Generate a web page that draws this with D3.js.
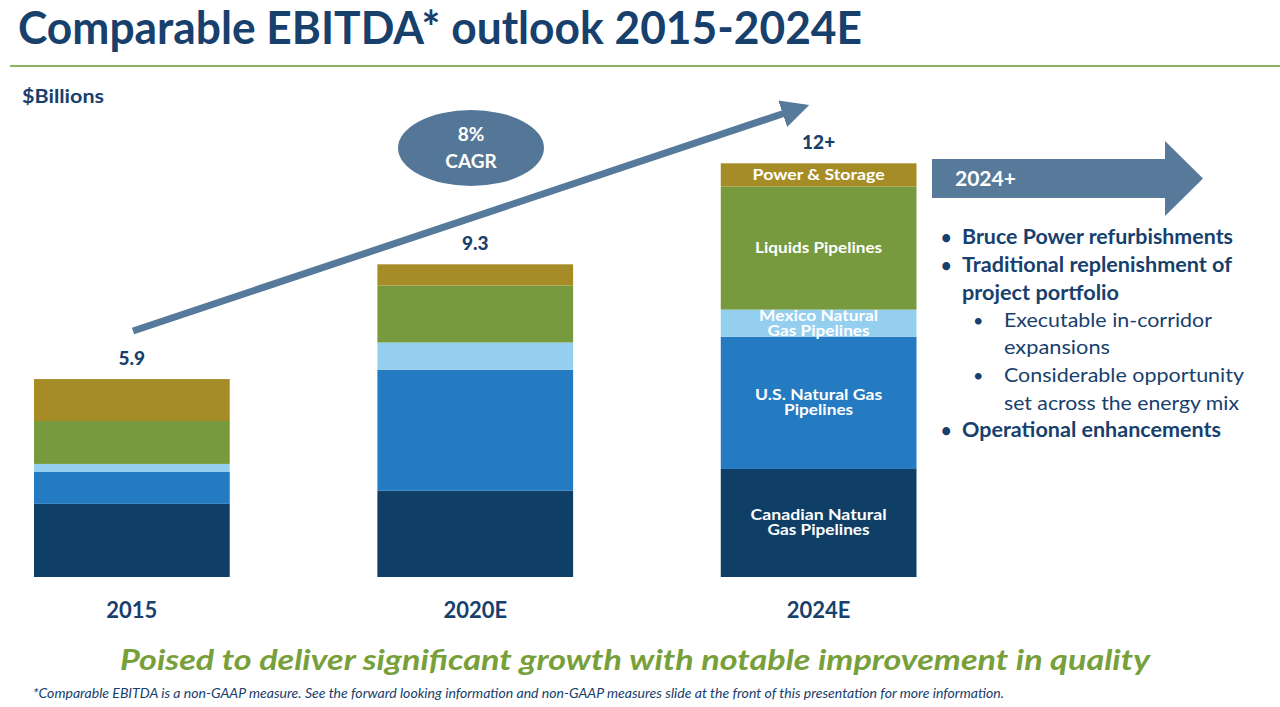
<!DOCTYPE html>
<html><head><meta charset="utf-8">
<script src="https://cdn.jsdelivr.net/npm/d3@7"></script>
<style>body{margin:0;background:#fff}svg{display:block}text{font-family:Lato,"Open Sans",sans-serif}</style>
</head><body>
<svg id="c" width="1280" height="707"></svg>
<script>
const categories = ["2015", "2020E", "2024E"];
const totalLabels = ["5.9", "9.3", "12+"];
const seriesNames = ["Canadian Natural Gas Pipelines", "U.S. Natural Gas Pipelines", "Mexico Natural Gas Pipelines", "Liquids Pipelines", "Power & Storage"];
const canadianGas = [2.18, 2.57, 3.22];
const usGas = [0.95, 3.61, 3.94];
const mexicoGas = [0.24, 0.81, 0.81];
const liquids = [1.28, 1.70, 3.67];
const powerStorage = [1.25, 0.63, 0.69];
const seriesColors = ["#0f3e66", "#247bc2", "#94cff0", "#789a3e", "#a68c27"];
const segLabelLines = [["Canadian Natural", "Gas Pipelines"], ["U.S. Natural Gas", "Pipelines"], ["Mexico Natural", "Gas Pipelines"], ["Liquids Pipelines"], ["Power & Storage"]];
const bullets = [
  {lvl:0, t:"Bruce Power refurbishments", b:true},
  {lvl:0, t:"Traditional replenishment of", b:true},
  {lvl:-1, t:"project portfolio", b:true},
  {lvl:1, t:"Executable in-corridor", b:false},
  {lvl:-2, t:"expansions", b:false},
  {lvl:1, t:"Considerable opportunity", b:false},
  {lvl:-2, t:"set across the energy mix", b:false},
  {lvl:0, t:"Operational enhancements", b:true}
];
const bulletWidths = [271, 270, 157, 208, 106, 240, 235, 259];

const series = [canadianGas, usGas, mexicoGas, liquids, powerStorage];
const navy = "#17406d";
const svg = d3.select("#c");

// header
svg.append("text").attr("x", 18).attr("y", 44).attr("font-size", 45).attr("font-weight", 700)
  .attr("fill", navy).attr("textLength", 844).attr("lengthAdjust", "spacingAndGlyphs")
  .text("Comparable EBITDA* outlook 2015-2024E");
svg.append("line").attr("x1", 10).attr("x2", 1280).attr("y1", 66).attr("y2", 66)
  .attr("stroke", "#8fb162").attr("stroke-width", 2);
svg.append("text").attr("x", 22).attr("y", 103).attr("font-size", 18).attr("font-weight", 700)
  .attr("fill", navy).attr("textLength", 82).attr("lengthAdjust", "spacingAndGlyphs").text("$Billions");

// scales
const x = d3.scaleBand().domain(categories).range([34, 916.5]).paddingInner(0.43).paddingOuter(0);
const pxPerB = 33.55;
const y = d3.scaleLinear().domain([0, 12.3]).range([577, 577 - 12.3 * pxPerB]);

// stack
const rows = categories.map((c, i) => {
  const o = {cat: c};
  seriesNames.forEach((s, j) => o[s] = series[j][i]);
  return o;
});
const stacked = d3.stack().keys(seriesNames)(rows);

const g = svg.append("g");
stacked.forEach((layer, j) => {
  g.selectAll(null).data(layer).join("rect")
    .attr("x", d => x(d.data.cat))
    .attr("width", x.bandwidth())
    .attr("y", d => y(d[1]))
    .attr("height", d => y(d[0]) - y(d[1]))
    .attr("fill", seriesColors[j]);
});

// segment labels on last bar
const segWidths = [[136, 102], [127, 69], [119, 102], [127], [132]];
const lastIdx = categories.length - 1;
stacked.forEach((layer, j) => {
  const d = layer[lastIdx];
  const cx = x(categories[lastIdx]) + x.bandwidth() / 2;
  const cy = (y(d[0]) + y(d[1])) / 2;
  const lines = segLabelLines[j];
  const lh = 15;
  lines.forEach((ln, k) => {
    const yy = cy + (k - (lines.length - 1) / 2) * lh + 5;
    svg.append("text").attr("x", cx).attr("y", yy).attr("text-anchor", "middle")
      .attr("font-size", 14.5).attr("font-weight", 700).attr("fill", "#fff")
      .attr("textLength", segWidths[j][k]).attr("lengthAdjust", "spacingAndGlyphs")
      .text(ln);
  });
});

// totals
const totals = categories.map((c, i) => d3.sum(series, s => s[i]));
categories.forEach((c, i) => {
  svg.append("text").attr("x", x(c) + x.bandwidth() / 2).attr("y", y(totals[i]) - 14)
    .attr("text-anchor", "middle").attr("font-size", 19).attr("font-weight", 900)
    .attr("fill", navy).text(totalLabels[i]);
  svg.append("text").attr("x", x(c) + x.bandwidth() / 2).attr("y", 618)
    .attr("text-anchor", "middle").attr("font-size", 22).attr("font-weight", 700)
    .attr("fill", navy).text(c);
});

// growth arrow
const arrowCol = "#557a9c";
const defs = svg.append("defs");
defs.append("marker").attr("id", "ah").attr("viewBox", "0 0 10 10").attr("refX", 2).attr("refY", 5)
  .attr("markerWidth", 4).attr("markerHeight", 4).attr("orient", "auto")
  .append("path").attr("d", "M0,0 L10,5 L0,10 Z").attr("fill", arrowCol);
svg.append("line").attr("x1", 133).attr("y1", 331).attr("x2", 788).attr("y2", 112)
  .attr("stroke", arrowCol).attr("stroke-width", 7).attr("marker-end", "url(#ah)");

// CAGR ellipse
svg.append("ellipse").attr("cx", 471).attr("cy", 148).attr("rx", 73).attr("ry", 38).attr("fill", "#557797");
svg.append("text").attr("x", 471).attr("y", 141).attr("text-anchor", "middle").attr("font-size", 19)
  .attr("font-weight", 700).attr("fill", "#fff").text("8%");
svg.append("text").attr("x", 471).attr("y", 168).attr("text-anchor", "middle").attr("font-size", 19)
  .attr("font-weight", 700).attr("fill", "#fff").text("CAGR");

// 2024+ arrow
svg.append("path").attr("d", "M932,159 L1165,159 L1165,141 L1203,178.5 L1165,216 L1165,198 L932,198 Z")
  .attr("fill", "#577a9a");
svg.append("text").attr("x", 955).attr("y", 186).attr("font-size", 21).attr("font-weight", 700)
  .attr("fill", "#fff").text("2024+");

// bullets
const baseY = [244, 272, 300, 327, 354, 382, 410, 437];
bullets.forEach((b, i) => {
  const tx = (b.lvl === 0 || b.lvl === -1) ? 962 : 1004;
  if (b.lvl === 0) svg.append("text").attr("x", 941).attr("y", baseY[i]).attr("font-size", 18).attr("fill", navy).attr("font-weight", 700).text("•");
  if (b.lvl === 1) svg.append("text").attr("x", 973).attr("y", baseY[i]).attr("font-size", 18).attr("fill", navy).text("•");
  svg.append("text").attr("x", tx).attr("y", baseY[i]).attr("font-size", 20)
    .attr("font-weight", b.b ? 700 : 400).attr("fill", navy)
    .attr("textLength", bulletWidths[i]).attr("lengthAdjust", "spacingAndGlyphs").text(b.t);
});

// tagline & footnote
svg.append("text").attr("x", 120).attr("y", 670).attr("font-size", 29).attr("font-weight", 700)
  .attr("font-style", "italic").attr("fill", "#77a03a")
  .attr("textLength", 1030).attr("lengthAdjust", "spacingAndGlyphs")
  .text("Poised to deliver significant growth with notable improvement in quality");
svg.append("text").attr("x", 33).attr("y", 698).attr("font-size", 12.5)
  .attr("font-style", "italic").attr("fill", navy)
  .attr("textLength", 971).attr("lengthAdjust", "spacingAndGlyphs")
  .text("*Comparable EBITDA is a non-GAAP measure.  See the forward looking information and non-GAAP measures slide at the front of this presentation for more information.");
</script>
</body></html>
